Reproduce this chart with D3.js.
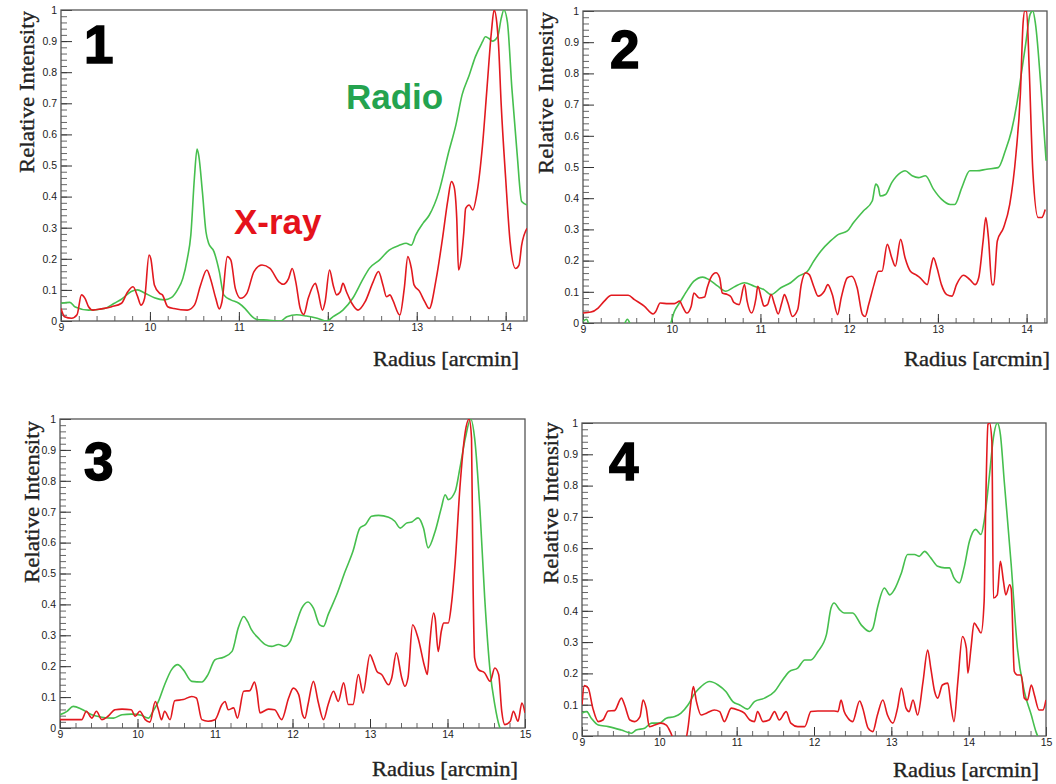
<!DOCTYPE html>
<html><head><meta charset="utf-8">
<script src="https://cdn.jsdelivr.net/npm/d3@7"></script>
<style>body{margin:0;background:#fff}</style>
</head><body>
<svg id="c" width="1056" height="784"></svg>
<script>
// ---------- data (radius [arcmin], relative intensity) ----------
const xray1 = [[9.00,0.04],[9.04,0.014],[9.12,0.009],[9.18,0.02],[9.23,0.084],[9.27,0.073],[9.31,0.046],[9.36,0.035],[9.45,0.039],[9.57,0.046],[9.68,0.057],[9.75,0.094],[9.81,0.11],[9.86,0.08],[9.90,0.051],[9.94,0.073],[9.99,0.212],[10.01,0.20],[10.05,0.116],[10.11,0.089],[10.14,0.084],[10.20,0.046],[10.27,0.04],[10.42,0.035],[10.50,0.051],[10.57,0.116],[10.64,0.164],[10.68,0.137],[10.74,0.073],[10.78,0.039],[10.81,0.062],[10.87,0.207],[10.91,0.196],[10.96,0.105],[11.02,0.073],[11.09,0.089],[11.17,0.159],[11.26,0.18],[11.35,0.169],[11.45,0.126],[11.50,0.118],[11.56,0.137],[11.60,0.169],[11.64,0.126],[11.69,0.04],[11.73,0.021],[11.78,0.073],[11.86,0.121],[11.89,0.094],[11.94,0.035],[11.97,0.062],[12.02,0.164],[12.06,0.116],[12.10,0.084],[12.14,0.094],[12.17,0.121],[12.21,0.094],[12.27,0.057],[12.34,0.035],[12.42,0.062],[12.51,0.126],[12.57,0.159],[12.62,0.116],[12.66,0.078],[12.70,0.084],[12.73,0.068],[12.81,0.019],[12.86,0.105],[12.90,0.207],[12.94,0.169],[12.97,0.116],[13.03,0.096],[13.09,0.062],[13.14,0.04],[13.22,0.137],[13.29,0.266],[13.35,0.389],[13.39,0.448],[13.42,0.432],[13.45,0.33],[13.47,0.164],[13.50,0.20],[13.53,0.287],[13.55,0.362],[13.59,0.373],[13.63,0.357],[13.68,0.416],[13.74,0.566],[13.79,0.748],[13.84,0.93],[13.87,1.0],[13.90,0.96],[13.92,0.887],[13.95,0.695],[14.00,0.459],[14.05,0.255],[14.11,0.169],[14.15,0.18],[14.18,0.244],[14.24,0.298]];
const radio1 = [[9.00,0.057],[9.10,0.06],[9.16,0.045],[9.31,0.035],[9.49,0.04],[9.60,0.057],[9.68,0.07],[9.79,0.095],[9.86,0.10],[9.94,0.09],[10.05,0.075],[10.16,0.068],[10.24,0.075],[10.31,0.10],[10.37,0.137],[10.42,0.20],[10.46,0.277],[10.50,0.46],[10.53,0.553],[10.55,0.53],[10.59,0.415],[10.63,0.287],[10.66,0.25],[10.72,0.223],[10.78,0.159],[10.83,0.084],[10.91,0.068],[11.00,0.057],[11.07,0.04],[11.15,0.014],[11.20,0.005],[11.32,0.003],[11.47,0.0],[11.54,0.014],[11.65,0.02],[11.76,0.016],[11.88,0.009],[11.99,0.0],[12.06,0.014],[12.17,0.035],[12.28,0.073],[12.40,0.137],[12.47,0.17],[12.58,0.196],[12.69,0.228],[12.81,0.244],[12.88,0.25],[12.94,0.244],[12.99,0.277],[13.07,0.314],[13.14,0.34],[13.25,0.416],[13.36,0.544],[13.44,0.63],[13.51,0.727],[13.59,0.79],[13.66,0.85],[13.74,0.898],[13.77,0.914],[13.81,0.909],[13.85,0.90],[13.91,0.914],[13.95,0.973],[13.98,1.0],[14.02,0.96],[14.07,0.748],[14.13,0.534],[14.18,0.384],[14.24,0.373]];
const xray2 = [[9.00,0.032],[9.09,0.035],[9.17,0.048],[9.24,0.07],[9.32,0.089],[9.51,0.089],[9.58,0.075],[9.69,0.054],[9.79,0.029],[9.82,0.037],[9.87,0.064],[9.96,0.062],[10.03,0.062],[10.09,0.07],[10.12,0.054],[10.17,0.032],[10.22,0.054],[10.25,0.096],[10.31,0.08],[10.37,0.083],[10.40,0.113],[10.44,0.145],[10.50,0.161],[10.54,0.145],[10.57,0.096],[10.63,0.091],[10.67,0.083],[10.70,0.066],[10.76,0.059],[10.82,0.123],[10.85,0.07],[10.90,0.032],[10.95,0.08],[10.97,0.118],[11.01,0.08],[11.04,0.054],[11.08,0.059],[11.12,0.091],[11.16,0.059],[11.20,0.029],[11.24,0.064],[11.27,0.091],[11.31,0.064],[11.36,0.021],[11.42,0.043],[11.46,0.123],[11.51,0.161],[11.55,0.155],[11.60,0.118],[11.65,0.086],[11.72,0.102],[11.76,0.123],[11.81,0.091],[11.87,0.027],[11.91,0.08],[11.98,0.145],[12.03,0.15],[12.09,0.113],[12.15,0.027],[12.18,0.021],[12.22,0.059],[12.28,0.123],[12.33,0.166],[12.37,0.166],[12.43,0.252],[12.48,0.209],[12.52,0.182],[12.58,0.268],[12.63,0.209],[12.69,0.166],[12.75,0.155],[12.80,0.145],[12.88,0.123],[12.92,0.177],[12.95,0.209],[12.99,0.177],[13.04,0.123],[13.10,0.091],[13.16,0.086],[13.21,0.123],[13.29,0.153],[13.36,0.139],[13.42,0.123],[13.46,0.145],[13.51,0.263],[13.54,0.338],[13.57,0.273],[13.61,0.123],[13.63,0.123],[13.67,0.263],[13.74,0.305],[13.81,0.38],[13.88,0.541],[13.93,0.734],[13.96,0.959],[13.98,1.0],[14.00,1.0],[14.03,0.81],[14.07,0.488],[14.13,0.338],[14.17,0.338],[14.21,0.364]];
const radio2 = [[9.00,0.005],[9.04,0.012],[9.08,-0.01],[9.45,-0.01],[9.50,0.012],[9.55,-0.01],[9.97,-0.01],[10.03,0.037],[10.10,0.07],[10.18,0.107],[10.25,0.134],[10.35,0.147],[10.42,0.139],[10.52,0.118],[10.61,0.102],[10.70,0.115],[10.82,0.129],[10.93,0.118],[11.04,0.107],[11.12,0.091],[11.23,0.113],[11.34,0.129],[11.43,0.15],[11.53,0.166],[11.60,0.198],[11.68,0.23],[11.79,0.263],[11.88,0.284],[11.98,0.295],[12.05,0.322],[12.16,0.359],[12.26,0.391],[12.30,0.445],[12.33,0.434],[12.35,0.407],[12.41,0.412],[12.48,0.45],[12.58,0.482],[12.63,0.488],[12.71,0.472],[12.78,0.466],[12.86,0.472],[12.95,0.429],[13.04,0.397],[13.14,0.38],[13.19,0.38],[13.27,0.434],[13.36,0.488],[13.44,0.488],[13.55,0.493],[13.68,0.498],[13.76,0.552],[13.83,0.616],[13.89,0.702],[13.94,0.798],[13.99,0.895],[14.04,0.99],[14.07,1.0],[14.10,0.959],[14.17,0.723],[14.22,0.52]];
const xray3 = [[9.00,0.027],[9.15,0.027],[9.28,0.027],[9.34,0.054],[9.41,0.032],[9.47,0.054],[9.54,0.027],[9.62,0.038],[9.71,0.059],[9.80,0.061],[9.92,0.059],[9.97,0.038],[10.03,0.054],[10.10,0.027],[10.16,0.019],[10.23,0.086],[10.27,0.059],[10.31,0.027],[10.35,0.054],[10.42,0.027],[10.48,0.088],[10.59,0.092],[10.70,0.102],[10.76,0.097],[10.83,0.027],[10.91,0.022],[11.00,0.027],[11.09,0.076],[11.13,0.086],[11.17,0.059],[11.24,0.065],[11.29,0.032],[11.37,0.119],[11.45,0.121],[11.51,0.149],[11.54,0.119],[11.58,0.049],[11.69,0.061],[11.77,0.059],[11.86,0.027],[11.95,0.097],[12.01,0.129],[12.08,0.108],[12.13,0.043],[12.16,0.032],[12.20,0.076],[12.27,0.151],[12.33,0.086],[12.40,0.027],[12.46,0.076],[12.53,0.119],[12.59,0.086],[12.66,0.146],[12.72,0.076],[12.78,0.076],[12.85,0.173],[12.91,0.113],[13.00,0.237],[13.04,0.216],[13.09,0.183],[13.15,0.173],[13.24,0.14],[13.28,0.162],[13.34,0.243],[13.41,0.162],[13.45,0.135],[13.49,0.162],[13.55,0.334],[13.62,0.291],[13.71,0.194],[13.74,0.173],[13.77,0.27],[13.82,0.372],[13.84,0.356],[13.88,0.248],[13.92,0.313],[13.95,0.34],[14.01,0.34],[14.05,0.399],[14.10,0.539],[14.16,0.777],[14.23,0.96],[14.28,1.0],[14.31,0.938],[14.33,0.464],[14.35,0.227],[14.40,0.189],[14.48,0.178],[14.55,0.151],[14.61,0.194],[14.66,0.173],[14.70,0.054],[14.74,0.011],[14.81,0.022],[14.85,0.054],[14.91,0.022],[14.96,0.081],[15.00,0.049]];
const radio3 = [[9.00,0.043],[9.09,0.054],[9.17,0.07],[9.28,0.061],[9.41,0.043],[9.54,0.035],[9.69,0.032],[9.80,0.043],[9.92,0.045],[10.05,0.041],[10.14,0.032],[10.20,0.054],[10.27,0.086],[10.35,0.14],[10.44,0.189],[10.52,0.205],[10.59,0.189],[10.70,0.151],[10.83,0.149],[10.91,0.173],[11.00,0.221],[11.11,0.229],[11.22,0.248],[11.30,0.324],[11.37,0.361],[11.42,0.345],[11.47,0.318],[11.56,0.291],[11.65,0.27],[11.73,0.264],[11.82,0.27],[11.90,0.264],[11.97,0.28],[12.03,0.324],[12.12,0.388],[12.20,0.408],[12.27,0.388],[12.35,0.334],[12.40,0.329],[12.46,0.367],[12.57,0.431],[12.68,0.507],[12.78,0.572],[12.87,0.647],[12.94,0.658],[13.02,0.685],[13.11,0.688],[13.24,0.682],[13.32,0.669],[13.39,0.647],[13.47,0.663],[13.54,0.667],[13.62,0.68],[13.69,0.647],[13.75,0.583],[13.84,0.636],[13.92,0.712],[13.97,0.755],[14.01,0.739],[14.10,0.766],[14.16,0.841],[14.23,0.938],[14.30,1.0],[14.35,0.938],[14.42,0.701],[14.48,0.421],[14.55,0.183],[14.61,0.076],[14.67,0.005],[14.72,-0.02]];
const xray4 = [[9.00,0.10],[9.03,0.161],[9.08,0.153],[9.14,0.089],[9.21,0.046],[9.27,0.051],[9.34,0.08],[9.42,0.081],[9.51,0.121],[9.55,0.10],[9.62,0.051],[9.68,0.046],[9.75,0.062],[9.79,0.115],[9.83,0.089],[9.87,0.03],[9.94,0.035],[10.02,0.041],[10.09,0.035],[10.15,0.009],[10.20,-0.02],[10.33,-0.02],[10.37,0.025],[10.41,0.11],[10.44,0.158],[10.48,0.11],[10.54,0.067],[10.61,0.073],[10.71,0.083],[10.78,0.078],[10.84,0.046],[10.93,0.089],[11.02,0.083],[11.10,0.073],[11.17,0.051],[11.23,0.046],[11.27,0.078],[11.34,0.046],[11.42,0.051],[11.49,0.078],[11.55,0.051],[11.64,0.078],[11.70,0.041],[11.79,0.03],[11.88,0.03],[11.96,0.078],[12.05,0.08],[12.26,0.08],[12.31,0.078],[12.35,0.115],[12.39,0.078],[12.44,0.057],[12.50,0.046],[12.59,0.112],[12.63,0.089],[12.70,0.025],[12.76,0.014],[12.82,0.067],[12.89,0.115],[12.95,0.067],[13.02,0.041],[13.08,0.089],[13.13,0.153],[13.19,0.089],[13.23,0.078],[13.28,0.115],[13.34,0.067],[13.41,0.174],[13.47,0.275],[13.51,0.217],[13.56,0.142],[13.60,0.121],[13.66,0.163],[13.73,0.169],[13.77,0.099],[13.81,0.046],[13.86,0.174],[13.92,0.318],[13.97,0.281],[13.99,0.201],[14.03,0.281],[14.07,0.361],[14.12,0.344],[14.16,0.329],[14.20,0.43],[14.22,0.729],[14.25,0.996],[14.27,1.0],[14.30,0.942],[14.32,0.441],[14.37,0.451],[14.41,0.558],[14.45,0.494],[14.48,0.451],[14.53,0.483],[14.55,0.47],[14.59,0.206],[14.63,0.195],[14.68,0.195],[14.72,0.121],[14.76,0.115],[14.81,0.163],[14.85,0.131],[14.91,0.083],[14.96,0.083],[15.00,0.115]];
const radio4 = [[9.00,0.073],[9.06,0.078],[9.12,0.057],[9.21,0.035],[9.34,0.03],[9.51,0.019],[9.64,0.009],[9.70,0.019],[9.81,0.025],[9.90,0.041],[10.00,0.041],[10.09,0.057],[10.20,0.062],[10.28,0.073],[10.37,0.099],[10.46,0.137],[10.54,0.158],[10.65,0.174],[10.76,0.163],[10.86,0.142],[10.95,0.11],[11.04,0.099],[11.14,0.086],[11.23,0.11],[11.36,0.121],[11.49,0.142],[11.58,0.174],[11.68,0.206],[11.79,0.217],[11.88,0.243],[11.96,0.243],[12.05,0.27],[12.16,0.323],[12.22,0.409],[12.26,0.425],[12.33,0.404],[12.39,0.393],[12.50,0.393],[12.61,0.355],[12.72,0.334],[12.76,0.344],[12.82,0.409],[12.91,0.473],[12.98,0.451],[13.04,0.468],[13.13,0.521],[13.21,0.58],[13.30,0.58],[13.36,0.574],[13.43,0.59],[13.51,0.569],[13.60,0.542],[13.69,0.537],[13.75,0.537],[13.81,0.505],[13.88,0.489],[13.94,0.537],[14.01,0.622],[14.09,0.66],[14.16,0.644],[14.20,0.686],[14.27,0.836],[14.32,0.953],[14.37,1.0],[14.41,0.964],[14.46,0.814],[14.55,0.547],[14.63,0.281],[14.72,0.142],[14.81,0.067],[14.87,0.014],[14.93,-0.02]];

const xraySeries = [xray1, xray2, xray3, xray4];
const radioSeries = [radio1, radio2, radio3, radio4];
const panelNumbers = ["1", "2", "3", "4"];
const xMax = [14.24, 14.23, 15, 15];
const yMajorTicks = [0, 0.1, 0.2, 0.3, 0.4, 0.5, 0.6, 0.7, 0.8, 0.9, 1];
const yTickLabels = ["0", "0.1", "0.2", "0.3", "0.4", "0.5", "0.6", "0.7", "0.8", "0.9", "1"];
const xMajorTicks = [9, 10, 11, 12, 13, 14, 15];
const xTickLabels = ["9", "10", "11", "12", "13", "14", "15"];
const xTitle = "Radius [arcmin]";
const yTitle = "Relative Intensity";
const seriesNames = ["X-ray", "Radio"];

// ---------- layout ----------
const frames = [
  {l:61,  t:10,  r:527,  b:321, num:[84,63],   ylab:[27,92],  xlab:[519,366]},
  {l:583, t:11,  r:1047, b:323, num:[610,68],  ylab:[546,93],  xlab:[1050,366]},
  {l:60,  t:419, r:525,  b:728, num:[84,480],  ylab:[32,502],  xlab:[518,776]},
  {l:582, t:423, r:1046, b:736, num:[609,480], ylab:[551,503], xlab:[1039,777]}
];
const RED = "#e2191f", GREEN = "#46bf4e";

const svg = d3.select("#c");
frames.forEach((f, i) => {
  const x = d3.scaleLinear().domain([9, xMax[i]]).range([f.l, f.r]);
  const y = d3.scaleLinear().domain([0, 1]).range([f.b, f.t]);
  const g = svg.append("g");

  g.append("clipPath").attr("id", "clip" + i).append("rect")
    .attr("x", f.l).attr("y", f.t).attr("width", f.r - f.l).attr("height", f.b - f.t);

  // minor ticks
  const yMinor = d3.range(0, 1.0001, 0.02);
  g.append("g").attr("transform", `translate(${f.l},0)`)
    .call(d3.axisLeft(y).tickValues(yMinor).tickSize(-6).tickSizeOuter(0).tickFormat(""))
    .call(s => { s.select(".domain").remove(); s.selectAll("line").attr("stroke", "#666"); });
  const xMinor = d3.range(9, xMax[i] + 0.0001, 0.2);
  g.append("g").attr("transform", `translate(0,${f.b})`)
    .call(d3.axisBottom(x).tickValues(xMinor).tickSize(-5).tickSizeOuter(0).tickFormat(""))
    .call(s => { s.select(".domain").remove(); s.selectAll("line").attr("stroke", "#666"); });

  // major ticks + labels
  g.append("g").attr("transform", `translate(${f.l},0)`)
    .call(d3.axisLeft(y).tickValues(yMajorTicks).tickSize(-11).tickSizeOuter(0).tickPadding(4)
      .tickFormat((d, k) => yTickLabels[k]))
    .call(s => {
      s.select(".domain").remove();
      s.selectAll("line").attr("stroke", "#333");
      s.selectAll("text").attr("font-family", "Liberation Sans, Arial, sans-serif")
        .attr("font-size", 10.5).attr("fill", "#222");
    });
  const xm = xMajorTicks.filter(v => v <= xMax[i] + 1e-6);
  g.append("g").attr("transform", `translate(0,${f.b})`)
    .call(d3.axisBottom(x).tickValues(xm).tickSize(-9).tickSizeOuter(0).tickPadding(3)
      .tickFormat(v => xTickLabels[xMajorTicks.indexOf(v)]))
    .call(s => {
      s.select(".domain").remove();
      s.selectAll("line").attr("stroke", "#333");
      s.selectAll("text").attr("font-family", "Liberation Sans, Arial, sans-serif")
        .attr("font-size", 10.5).attr("fill", "#222");
    });

  // frame
  g.append("rect").attr("x", f.l).attr("y", f.t).attr("width", f.r - f.l).attr("height", f.b - f.t)
    .attr("fill", "none").attr("stroke", "#555").attr("stroke-width", 1.3);

  // curves
  const line = d3.line().x(d => x(d[0])).y(d => y(d[1])).curve(d3.curveMonotoneX);
  const cg = g.append("g").attr("clip-path", `url(#clip${i})`);
  cg.append("path").attr("d", line(radioSeries[i])).attr("fill", "none")
    .attr("stroke", GREEN).attr("stroke-width", 1.6);
  cg.append("path").attr("d", line(xraySeries[i])).attr("fill", "none")
    .attr("stroke", RED).attr("stroke-width", 1.6);

  // panel number
  g.append("text").attr("x", f.num[0]).attr("y", f.num[1]).text(panelNumbers[i])
    .attr("font-family", "Liberation Sans, Arial, sans-serif").attr("font-weight", "bold")
    .attr("font-size", 53).attr("fill", "#000").attr("stroke", "#000").attr("stroke-width", 1.5);

  // axis titles
  g.append("text").attr("transform", `translate(${f.ylab[0]},${f.ylab[1]}) rotate(-90)`)
    .attr("text-anchor", "middle").attr("dominant-baseline", "central").text(yTitle)
    .attr("font-family", "Liberation Serif, Times New Roman, serif").attr("font-size", 21)
    .attr("fill", "#222").attr("stroke", "#222").attr("stroke-width", 0.35)
    .attr("textLength", 162).attr("lengthAdjust", "spacingAndGlyphs");
  g.append("text").attr("x", f.xlab[0]).attr("y", f.xlab[1]).attr("text-anchor", "end").text(xTitle)
    .attr("font-family", "Liberation Serif, Times New Roman, serif").attr("font-size", 21)
    .attr("fill", "#222").attr("stroke", "#222").attr("stroke-width", 0.35)
    .attr("textLength", 146).attr("lengthAdjust", "spacingAndGlyphs");
});

// series labels (panel 1 only)
svg.append("text").attr("x", 346).attr("y", 109).text(seriesNames[1])
  .attr("font-family", "Liberation Sans, Arial, sans-serif").attr("font-weight", "bold")
  .attr("font-size", 35).attr("fill", "#24a34f");
svg.append("text").attr("x", 234).attr("y", 234).text(seriesNames[0])
  .attr("font-family", "Liberation Sans, Arial, sans-serif").attr("font-weight", "bold")
  .attr("font-size", 35).attr("fill", "#e5121b");
</script>
</body></html>
